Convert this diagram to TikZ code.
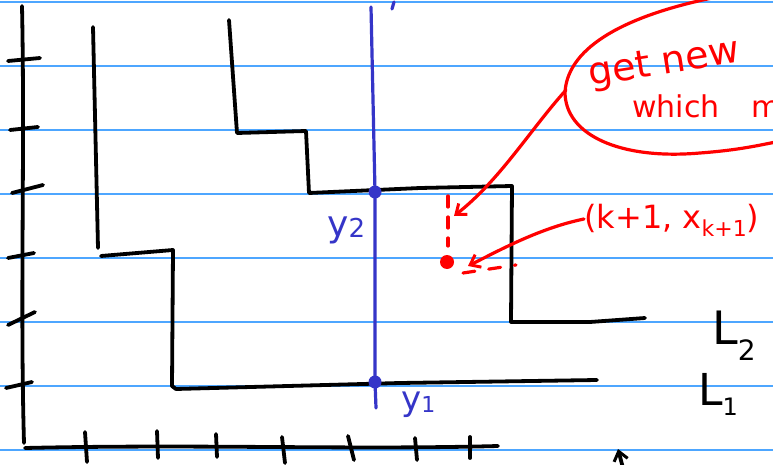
\documentclass[tikz,border=0pt]{standalone}
\usepackage{fontspec}
\setmainfont{DejaVu Sans}
\usetikzlibrary{arrows.meta}
\definecolor{ruleblue}{HTML}{4DA6FF}
\definecolor{penblue}{HTML}{3535C8}
\definecolor{penred}{HTML}{FF0000}
\begin{document}
\begin{tikzpicture}[x=1pt,y=-1pt,
  ink/.style={line width=3.8pt, line cap=round, line join=round, black},
  blueink/.style={line width=3.2pt, line cap=round, line join=round, penblue},
  redink/.style={line width=3.2pt, line cap=round, line join=round, penred},
  ruled/.style={ruleblue, line width=1.2pt},
  hand/.style={inner sep=0pt, anchor=base west},
  barb/.style={-{Straight Barb[length=9pt,width=14pt,line width=3pt]}}]
\useasboundingbox (0,0) rectangle (773,465);
\clip (0,0) rectangle (773,465);
\fill[white] (0,0) rectangle (773,465);
% ruled paper
\foreach \y in {2,66,130,194,258,322,386,450}
  \draw[ruled] (0,\y) -- (773,\y);
% axes
\draw[ink] (22,6) .. controls (25,150) and (20,300) .. (24,443);
\draw[ink] (25,448) .. controls (200,444) and (350,450) .. (498,446);
\foreach \a/\b/\c/\d in {8/61/40/58, 10/130/38/127, 12/193/43/185, 8/258/34/253, 8/325/35/312, 6/388/32/382}
  \draw[ink] (\a,\b) -- (\c,\d);
\foreach \a/\b/\c/\d in {85/432/87/462, 157/431/158/458, 216/434/217/457, 282/437/285/463, 348/436/354/460, 415/438/417/460, 470/437/470/458}
  \draw[ink] (\a,\b) -- (\c,\d);
% L1 staircase
\draw[ink] (93,27) -- (98,248);
\draw[ink] (101,256) -- (173,250) -- (172,386) -- (176,389) -- (400,383) -- (597,380);
% L2 staircase
\draw[ink] (229,20) -- (237,133) -- (306,131) -- (309,193) -- (420,188) -- (512,186) -- (511,322) -- (590,322) -- (645,318);
% labels L2, L1
\node[hand] (L2) at (712,344) {{\fontsize{46}{46}\selectfont L}\raisebox{-16pt}{\fontsize{28}{28}\selectfont 2}};
\node[hand] (L1) at (698,405) {{\fontsize{44}{44}\selectfont L}\raisebox{-10pt}{\fontsize{24}{24}\selectfont 1}};
% blue vertical line and points
\coordinate (btop) at (371,7);
\coordinate (bbot) at (376,408);
\node[circle, fill=penblue, inner sep=0pt, minimum size=13pt] (y2pt) at (375,192) {};
\node[circle, fill=penblue, inner sep=0pt, minimum size=13pt] (y1pt) at (375,382) {};
\draw[blueink] (btop) -- (y2pt.center) -- (y1pt.center) -- (bbot);
\draw[blueink] (392,9) -- (394,2);
\node[hand, text=penblue] (y2) at (327,236) {{\fontsize{36}{36}\selectfont y}\raisebox{-1pt}{\fontsize{26}{26}\selectfont 2}};
\node[hand, text=penblue] (y1) at (401,410) {{\fontsize{34}{34}\selectfont y}\raisebox{-2pt}{\fontsize{22}{22}\selectfont 1}};
% red thought blob
\draw[redink] (712,-2) .. controls (630,15) and (568,45) .. (565,92)
  .. controls (565,135) and (620,160) .. (700,153) .. controls (740,150) and (760,145) .. (776,142);
\node[hand, text=penred, rotate=9] (get) at (590,86) {\fontsize{38}{38}\selectfont get new};
\node[hand, text=penred] (which) at (632,118) {\fontsize{30}{30}\selectfont which\hspace{32pt}m};
% red arrow from blob
\coordinate (blobL) at (566,90);
\coordinate (tip1) at (454,216);
\draw[redink, barb] (blobL) .. controls (530,130) and (500,180) .. (tip1);
% red dashed guides and point
\draw[redink, dash pattern=on 11pt off 10pt] (448,196) -- (448,246);
\node[circle, fill=penred, inner sep=0pt, minimum size=14pt] (newpt) at (447,262) {};
\draw[redink, dash pattern=on 12pt off 14pt] (463,273) -- (516,265);
% label (k+1, x_{k+1})
\node[hand, text=penred] (kx) at (584,228) {{\fontsize{32}{32}\selectfont (k+1, x}\raisebox{-8pt}{\fontsize{22}{22}\selectfont k+1}{\fontsize{32}{32}\selectfont )}};
\coordinate (kxL) at (584,219);
\coordinate (tip2) at (468,266);
\draw[redink, barb] (kxL) .. controls (540,228) and (500,250) .. (tip2);
% small black arrow at bottom
\coordinate (arrB) at (624,472);
\coordinate (arrT) at (618,449);
\draw[ink, barb] (arrB) -- (arrT);
\end{tikzpicture}
\end{document}
